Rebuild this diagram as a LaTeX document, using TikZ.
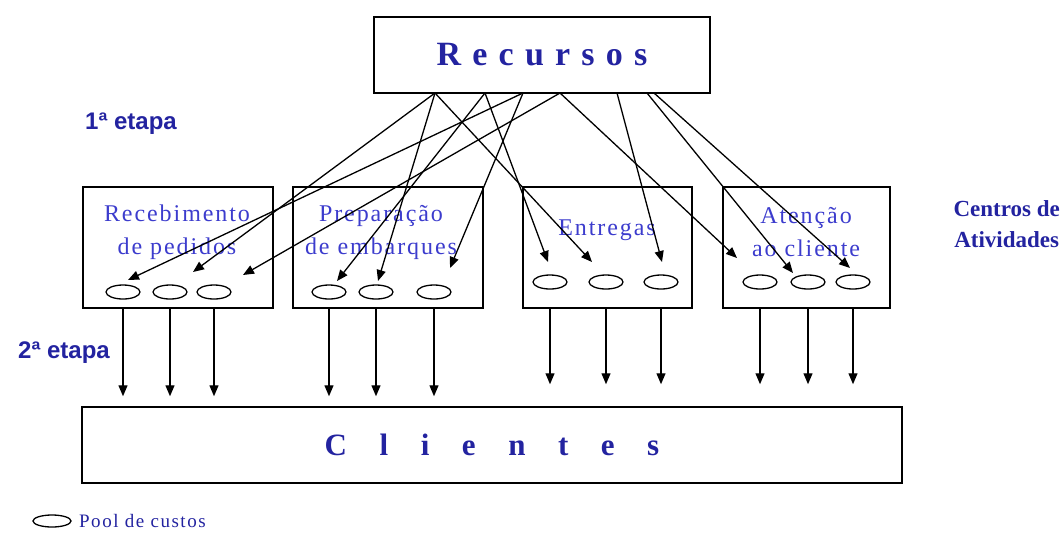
\documentclass[tikz,border=0pt]{standalone}
\usepackage{fontspec}
\setmainfont{Liberation Serif}
\newfontfamily\etapafont{Liberation Sans}
\newfontfamily\labfont[LetterSpace=8]{Liberation Serif}
\newfontfamily\resfont[LetterSpace=33]{Liberation Serif}
\newfontfamily\clifont[LetterSpace=105]{Liberation Serif}
\usepackage{tikz}
\usetikzlibrary{shapes.geometric,arrows.meta}
\definecolor{darkblue}{RGB}{35,35,160}
\definecolor{labblue}{RGB}{60,60,205}

\begin{document}
\begin{tikzpicture}[x=1pt,y=-1pt,
  every text node part/.style={align=center},
  box/.style={draw, shape=rectangle, line width=1.5pt, inner sep=0pt},
  pool/.style={draw, shape=ellipse, line width=1.3pt, minimum width=34pt, minimum height=14pt, inner sep=0pt},
  lab/.style={text=labblue, font=\labfont\fontsize{24}{33}\selectfont},
  etapa/.style={text=darkblue, font=\etapafont\bfseries\fontsize{24}{28}\selectfont},
  arr/.style={-{Triangle[length=11pt,width=9pt]}, line width=1.3pt}]
\useasboundingbox (0,0) rectangle (1064,536);

\node (res) [box, minimum width=336pt, minimum height=76pt, text=darkblue,
  font=\resfont\bfseries\fontsize{34}{38}\selectfont] at (542,55) {Recursos};
\node (cli) [box, minimum width=820pt, minimum height=76pt, text=darkblue,
  font=\clifont\bfseries\fontsize{31}{34}\selectfont] at (492,445) {Clientes};

\node (ac1) [box, minimum width=190pt, minimum height=121pt] at (178,247.5) {};
\node (ac2) [box, minimum width=190pt, minimum height=121pt] at (388,247.5) {};
\node (ac3) [box, minimum width=169pt, minimum height=121pt] at (607.5,247.5) {};
\node (ac4) [box, minimum width=167pt, minimum height=121pt] at (806.5,247.5) {};

\node (lab1) [lab] at (177,232) {Recebimento\\de pedidos};
\node (lab2) [lab] at (381,232) {Preparação\\de embarques};
\node (lab3) [lab] at (607,230) {Entregas};
\node (lab4) [lab] at (806,232) {Atenção\\ao cliente};

\node (p11) [pool] at (123,292) {};
\node (p12) [pool] at (170,292) {};
\node (p13) [pool] at (214,292) {};
\node (p21) [pool] at (329,292) {};
\node (p22) [pool] at (376,292) {};
\node (p23) [pool] at (434,292) {};
\node (p31) [pool] at (550,282) {};
\node (p32) [pool] at (606,282) {};
\node (p33) [pool] at (661,282) {};
\node (p41) [pool] at (760,282) {};
\node (p42) [pool] at (808,282) {};
\node (p43) [pool] at (853,282) {};

\node (st1) [etapa] at (131,124) {1ª etapa};
\node (st2) [etapa] at (64,353) {2ª etapa};
\node (cen) [anchor=west, align=left, text=darkblue,
  font=\bfseries\fontsize{23}{31}\selectfont] at (950,224) {Centros de\\Atividades};

\node (leg) [pool, minimum width=38pt, minimum height=12pt] at (52,521) {};
\node (legtxt) [anchor=west, text=darkblue, font=\labfont\fontsize{19}{21}\selectfont]
  at ([xshift=4pt]leg.east) {Pool de custos};

\coordinate (o1) at (435,93);
\coordinate (o2) at (485,93);
\coordinate (o3) at (523,93);
\coordinate (o4) at (560,93);
\coordinate (o5) at (617,93);
\coordinate (o6) at (647,93);
\coordinate (o7) at (654,93);
\coordinate (t1) at (128,280);
\coordinate (t2) at (193,272);
\coordinate (t3) at (243,275);
\coordinate (t4) at (337,281);
\coordinate (t5) at (378,281);
\coordinate (t6) at (450,268);
\coordinate (t7) at (548,262);
\coordinate (t8) at (592,262);
\coordinate (t9) at (662,262);
\coordinate (t10) at (737,258);
\coordinate (t11) at (793,273);
\coordinate (t12) at (850,268);

\draw[arr] (o1) -- (t2);
\draw[arr] (o1) -- (t5);
\draw[arr] (o1) -- (t8);
\draw[arr] (o2) -- (t4);
\draw[arr] (o2) -- (t7);
\draw[arr] (o3) -- (t1);
\draw[arr] (o3) -- (t6);
\draw[arr] (o4) -- (t3);
\draw[arr] (o4) -- (t10);
\draw[arr] (o5) -- (t9);
\draw[arr] (o6) -- (t11);
\draw[arr] (o7) -- (t12);

\draw[arr, shorten >=10pt] (p11 |- ac1.south) -- (p11 |- cli.north);
\draw[arr, shorten >=10pt] (p12 |- ac1.south) -- (p12 |- cli.north);
\draw[arr, shorten >=10pt] (p13 |- ac1.south) -- (p13 |- cli.north);
\draw[arr, shorten >=10pt] (p21 |- ac2.south) -- (p21 |- cli.north);
\draw[arr, shorten >=10pt] (p22 |- ac2.south) -- (p22 |- cli.north);
\draw[arr, shorten >=10pt] (p23 |- ac2.south) -- (p23 |- cli.north);
\draw[arr, shorten >=22pt] (p31 |- ac3.south) -- (p31 |- cli.north);
\draw[arr, shorten >=22pt] (p32 |- ac3.south) -- (p32 |- cli.north);
\draw[arr, shorten >=22pt] (p33 |- ac3.south) -- (p33 |- cli.north);
\draw[arr, shorten >=22pt] (p41 |- ac4.south) -- (p41 |- cli.north);
\draw[arr, shorten >=22pt] (p42 |- ac4.south) -- (p42 |- cli.north);
\draw[arr, shorten >=22pt] (p43 |- ac4.south) -- (p43 |- cli.north);
\end{tikzpicture}
\end{document}
